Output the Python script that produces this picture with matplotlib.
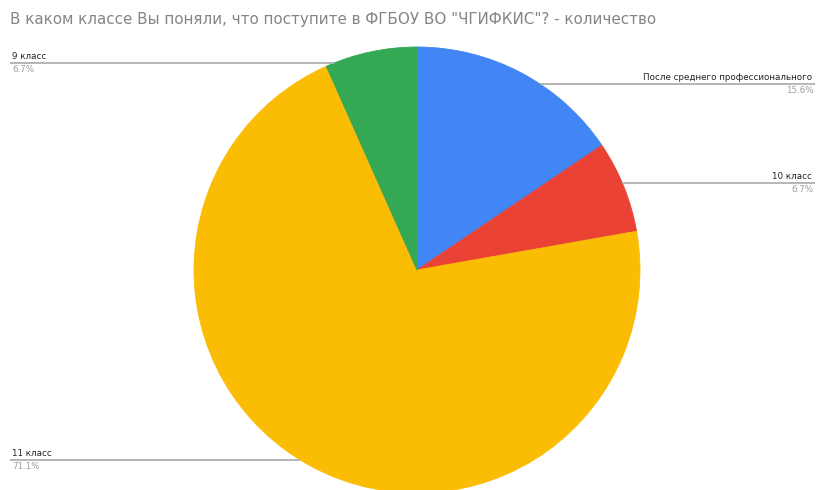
import numpy as np
import matplotlib
matplotlib.use("Agg")
import matplotlib.pyplot as plt

title = 'В каком классе Вы поняли, что поступите в ФГБОУ ВО "ЧГИФКИС"? - количество'
categories = ["После среднего профессионального", "10 класс", "11 класс", "9 класс"]
counts = [7, 3, 32, 3]
colors = ["#4285F4", "#EA4335", "#FBBC04", "#34A853"]

W, H = 817, 490
fig = plt.figure(figsize=(W / 100, H / 100), dpi=100)
ax = fig.add_axes([0, 0, 1, 1])
ax.set_xlim(0, W)
ax.set_ylim(0, H)
ax.set_aspect("equal")
ax.axis("off")

def py(y):
    return H - y

cx, cy, r = 417, 270, 223
wedges, _ = ax.pie(counts, colors=colors, startangle=90, counterclock=False,
                   center=(cx, py(cy)), radius=r,
                   wedgeprops=dict(linewidth=0.6, edgecolor="none", antialiased=True))
for w, c in zip(wedges, colors):
    w.set_edgecolor(c)
ax.set_xlim(0, W)
ax.set_ylim(0, H)

total = sum(counts)
pcts = [f"{100 * c / total:.1f}%" for c in counts]

# label layout: (line y px, side, text anchor x)
layout = {
    0: (84, "right", 812),
    1: (183, "right", 812),
    2: (460, "left", 10),
    3: (63, "left", 10),
}
line_col = "#b0b0b0"
fs = 6.3
for i, (ly, side, tx) in layout.items():
    dy = abs(ly - cy)
    dx = np.sqrt(max(r * r - dy * dy, 0))
    if side == "right":
        x0 = cx + dx
        ax.plot([x0, tx + 3], [py(ly), py(ly)], color=line_col, lw=1.3, solid_capstyle="butt")
        ax.text(tx, py(ly - 2), categories[i], ha="right", va="bottom", fontsize=fs, color="#222222")
        ax.text(tx + 2, py(ly + 2), pcts[i], ha="right", va="top", fontsize=fs, color="#9e9e9e")
    else:
        x0 = cx - dx
        ax.plot([tx, x0], [py(ly), py(ly)], color=line_col, lw=1.3, solid_capstyle="butt")
        ax.text(tx + 2, py(ly - 2), categories[i], ha="left", va="bottom", fontsize=fs, color="#222222")
        ax.text(tx + 2, py(ly + 2), pcts[i], ha="left", va="top", fontsize=fs, color="#9e9e9e")

ax.text(10, py(20), title, ha="left", va="center", fontsize=10.9, color="#858585")

fig.savefig("out.png", dpi=100)
